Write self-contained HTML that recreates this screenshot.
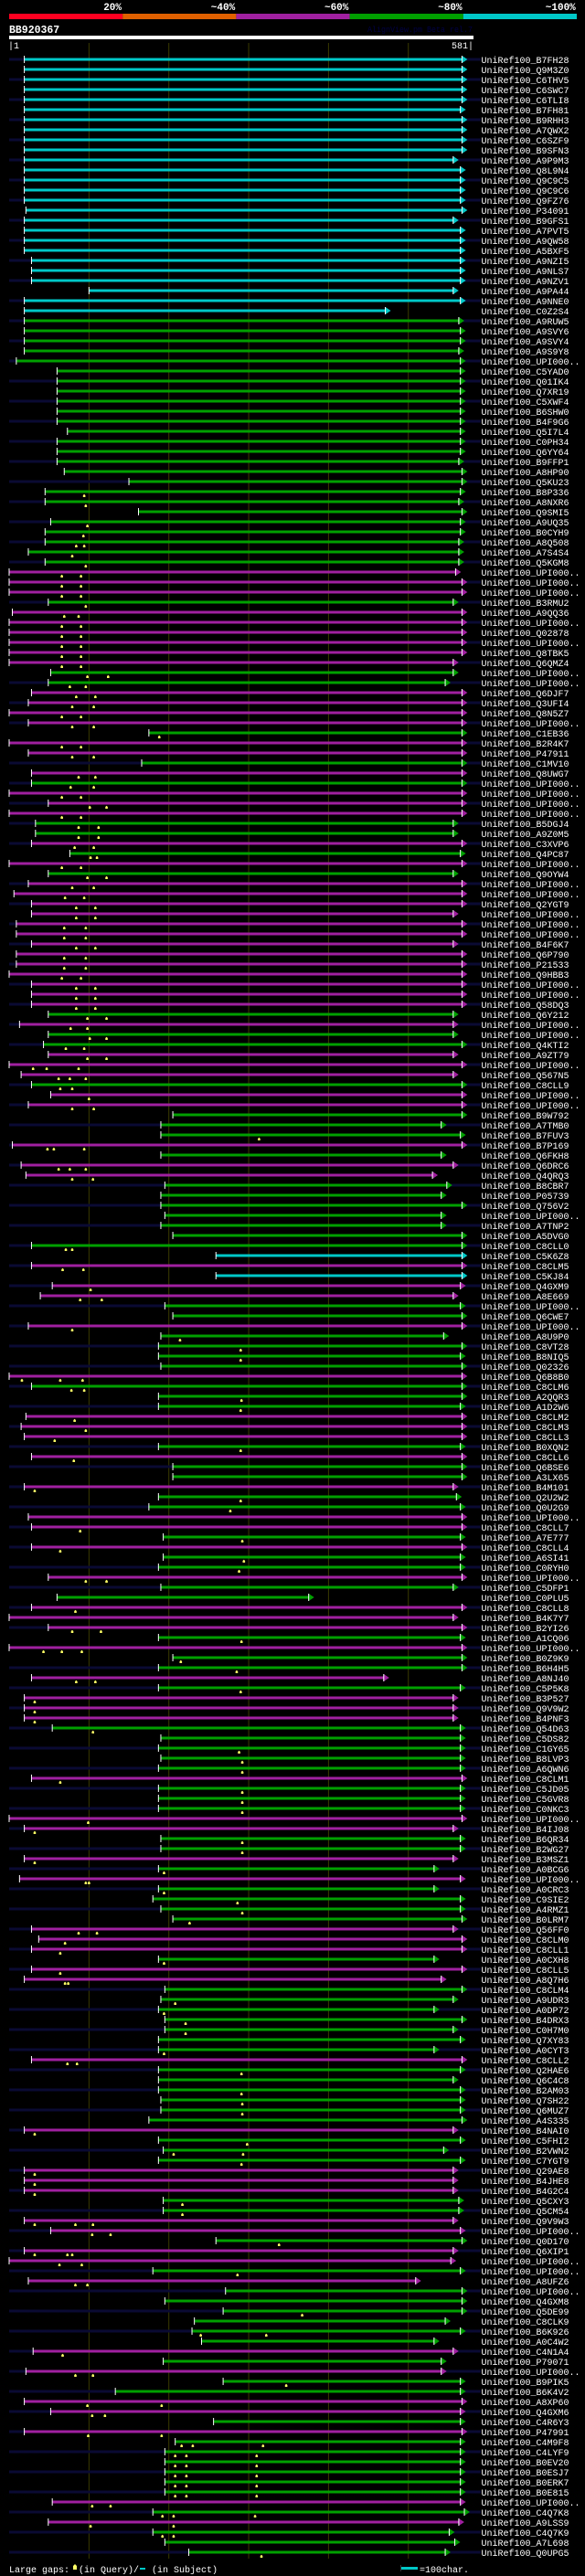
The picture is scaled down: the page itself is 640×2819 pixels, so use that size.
<!DOCTYPE html>
<html><head><meta charset="utf-8"><style>
html,body{margin:0;padding:0;background:#000;}
svg{display:block;}
</style></head><body>
<svg id="chart" width="640" height="2819" viewBox="0 0 640 2819" xmlns="http://www.w3.org/2000/svg" font-family="'Liberation Mono', monospace">
<rect x="0" y="0" width="640" height="2819" fill="#000"/>
<g id="legend-top"></g>
<text x="10" y="36" fill="#fff" font-size="11.5" font-weight="bold">BB920367</text>
<text x="402" y="35" fill="#000045" font-size="9.5" textLength="115" lengthAdjust="spacingAndGlyphs">AlignView.pm Beta rel.7</text>
<rect x="10" y="39" width="508" height="4" fill="#fff"/>
<text x="9" y="53" fill="#fff" font-size="10">|1</text>
<text x="518" y="53" fill="#fff" font-size="10" text-anchor="end">581|</text>
<g id="grid"></g>
<g id="rows"></g>
<g>
<text x="10" y="2815" fill="#fff" font-size="10">Large gaps:</text>
<path d="M80 2808 L82 2806 L84 2808 L84 2812 L80 2812 Z" fill="#ffff66"/>
<text x="86" y="2815" fill="#fff" font-size="10">(in Query)/</text>
<rect x="153" y="2810" width="6" height="2" fill="#00c8c8"/>
<text x="166" y="2815" fill="#fff" font-size="10">(in Subject)</text>
<rect x="439" y="2809" width="18" height="3" fill="#00c8c8"/>
<rect x="438" y="2807" width="1" height="7" fill="#333"/>
<text x="459" y="2815" fill="#fff" font-size="10">=100char.</text>
</g>
</svg>
<script>
// ---- data ----
const legendLabels = ["20%","~40%","~60%","~80%","~100%"];
const legendColors = ["#ff0020","#e06000","#a020a0","#00a000","#00c8c8"];
const gridTicks = [100,200,300,400,500];
const labels = ["B7FH28","Q9M3Z0","C6THV5","C6SWC7","C6TLI8","B7FH81","B9RHH3","A7QWX2","C6SZF9","B9SFN3","A9P9M3","Q8L9N4","Q9C9C5","Q9C9C6","Q9FZ76","P34091","B9GFS1","A7PVT5","A9QW58","A5BXF5","A9NZI5","A9NLS7","A9NZV1","A9PA44","A9NNE0","C0Z2S4","A9RUW5","A9SVY6","A9SVY4","A9S9Y8","UPI000..","C5YAD0",
"Q01IK4","Q7XR19","C5XWF4","B6SHW0","B4F9G6","Q5I7L4","C0PH34","Q6YY64","B9FFP1","A8HP90","Q5KU23","B8P336","A8NXR6","Q9SMI5","A9UQ35","B0CYH9","A8Q508","A7S4S4","Q5KGM8","UPI000..","UPI000..","UPI000..","B3RMU2","A9QQ36","UPI000..","Q02878",
"UPI000..","Q8TBK5","Q6QMZ4","UPI000..","UPI000..","Q6DJF7","Q3UFI4","Q8N5Z7","UPI000..","C1EB36","B2R4K7","P47911","C1MV10","Q8UWG7","UPI000..","UPI000..","UPI000..","UPI000..","B5DGJ4","A9Z0M5","C3XVP6","Q4PC87","UPI000..","Q9OYW4","UPI000..","UPI000..",
"Q2YGT9","UPI000..","UPI000..","UPI000..","B4F6K7","Q6P790","P21533","Q9HBB3","UPI000..","UPI000..","Q58DQ3","Q6Y212","UPI000..","UPI000..","Q4KTI2","A9ZT79","UPI000..","Q567N5","C8CLL9","UPI000..","UPI000..","B9W792","A7TMB0","B7FUV3","B7P169","Q6FKH8","Q6DRC6",
"Q4QRQ3","B8CBR7","P05739","Q756V2","UPI000..","A7TNP2","A5DVG0","C8CLL0","C5K6Z8","C8CLM5","C5KJ84","Q4GXM9","A8E669","UPI000..","Q6CWE7","UPI000..","A8U9P0","C8VT28","B8NIQ5","Q02326","Q6B8B0","C8CLM6","A2QQR3","A1D2W6","C8CLM2","C8CLM3",
"C8CLL3","B0XQN2","C8CLL6","Q6BSE6","A3LX65","B4M101","Q2U2W2","Q0U2G9","UPI000..","C8CLL7","A7E777","C8CLL4","A6SI41","C0RYH0","UPI000..","C5DFP1","C0PLU5","C8CLL8","B4K7Y7","B2YI26","A1CQ06","UPI000..","B0Z9K9","B6H4H5","A8NJ40","C5P5K8","B3P527",
"Q9V9W2","B4PNF3","Q54D63","C5DS82","C1GY65","B8LVP3","A6QWN6","C8CLM1","C5JD05","C5GVR8","C0NKC3","UPI000..","B4IJ08","B6QR34","B2WG27","B3MSZ1","A0BCG6","UPI000..","A0CRC3","C9SIE2","A4RMZ1","B0LRM7","Q56FF0","C8CLM0","C8CLL1","A0CXH8",
"C8CLL5","A8Q7H6","C8CLM4","A9UDR3","A0DP72","B4DRX3","C0H7M0","Q7XY83","A0CYT3","C8CLL2","Q2HAE6","Q6C4C8","B2AM03","Q7SH22","Q6MUZ7","A4S335","B4NAI0","C5FHI2","B2VWN2","C7YGT9","Q29AE8","B4JHE8","B4G2C4","Q5CXY3","Q5CM54","Q9V9W3",
"UPI000..","Q0D170","Q6XIP1","UPI000..","UPI000..","A8UFZ6","UPI000..","Q4GXM8","Q5DE99","C8CLK9","B6K926","A0C4W2","C4N1A4","P79071","UPI000..","B9PIK5","B6K4V2","A8XP60","Q4GXM6","C4R6Y3","P47991","C4M9F8","C4LYF9","B0EV20","B0ESJ7",
"B0ERK7","B0E815","UPI000..","C4Q7K8","A9LSS9","C4Q7K9","A7L698","Q0UPG5"];
// identity class per row: c=~100%, g=~80%, m=~60%
const identity = [
"cccccccccccccccccccccccccc","ggggggggggggggggggggggggg","mmm","g","mmmmmm","gg","mmmm","g","mm","g","m","g","mmm","gg","m","g","m","g","mm",
"mmmmmmmmmmm","g","m","gg","mmm","g","mm","ggg","m","g","mm","ggggggg","c","m","c","mm","gg","m","gggg","m","ggg","mmm","g","m","gg","m","gg","mm",
"g","m","gg","m","gg","mmm","g","m","gg","m","g","mmm","ggggg","m","ggg","mm","gg","m","g","m","gggg","mmm","g","mm","ggggggg","m","gggggg","m","ggg",
"mmm","gg","mm","g","mm","g","m","gggggg","m","g","m","gg","mm","g","m","gggggg","m","g","m","ggg"].join("");
const starts = [19,19,19,19,19,19,19,19,19,19,19,19,19,19,19,21,19,19,19,19,28,28,28,100,19,19,19,19,19,19,9,60,
60,60,60,60,60,73,60,60,60,69,150,45,45,162,52,45,45,24,45,0,0,0,49,4,0,0,
0,0,0,52,49,28,24,0,24,175,0,24,166,28,28,0,49,0,33,33,28,76,0,49,24,6,
28,28,9,9,28,9,9,0,28,28,28,49,13,49,43,49,0,15,28,52,24,205,190,190,4,190,15,
21,195,190,190,195,190,205,28,259,28,259,54,39,195,205,24,190,187,187,190,0,28,187,187,21,15,
19,187,28,205,205,19,187,175,24,28,193,28,193,187,49,190,60,28,0,49,187,0,205,187,28,187,19,
19,19,54,190,187,190,187,28,187,187,187,0,19,190,190,19,187,13,187,180,190,205,28,37,28,187,
28,19,195,190,187,195,195,187,187,28,187,187,187,190,190,175,19,187,193,187,19,19,19,193,193,19,
52,259,19,0,180,24,271,195,268,232,229,241,30,193,21,268,133,19,52,256,19,208,195,195,195,
195,195,54,180,49,180,195,225];
const ends = [574,574,574,574,574,572,574,574,574,574,563,572,572,572,572,574,563,572,572,572,572,572,572,563,572,478,570,572,572,570,572,572,
572,572,572,572,572,572,572,572,570,574,574,572,570,574,572,572,570,570,570,566,574,574,563,574,574,574,
574,574,563,563,553,574,574,574,574,574,574,574,574,574,574,574,574,574,563,563,574,572,574,563,574,574,
574,563,574,574,563,574,574,574,574,574,574,563,563,563,574,563,574,563,574,574,574,574,548,572,574,548,563,
537,555,548,574,548,548,574,574,574,574,574,572,563,572,574,574,551,574,572,574,574,574,574,572,574,574,
574,572,574,574,574,563,567,572,574,574,572,574,572,572,574,563,382,574,563,574,572,574,574,574,476,572,563,
563,563,572,572,572,572,572,574,572,572,572,574,563,572,572,563,539,572,539,572,572,574,563,574,574,539,
574,548,574,563,539,574,563,572,539,574,572,563,572,572,572,574,563,572,551,572,563,563,563,570,570,563,
572,574,563,560,572,516,574,574,574,553,572,539,563,548,548,572,572,574,572,572,574,572,572,572,572,
572,572,572,577,570,558,565,553];
const markers = [[],[],[],[],[],[],[],[],[],[],[],[],[],[],[],[],[],[],[],[],[],[],[],[],[],[],[],[],[],[],[],[],
[],[],[],[],[],[],[],[],[],[],[],[94],[96],[],[98],[93],[84,94],[79],[96],[66,90],[66,90],[66,90],[96],[69,87],[66,90],[66,90],
[66,90],[66,90],[66,90],[98,124],[76,96],[84,108],[79,106],[66,90],[79,106],[188],[66,90],[79,106],[],[87,108],[77,106],[66,90],[101,122],[66,90],[87,112],[87,112],[82,106],[102,110],[66,90],[98,122],[79,106],[70,94],
[84,108],[84,108],[69,96],[69,96],[84,108],[69,96],[69,96],[66,90],[84,108],[84,108],[84,108],[98,122],[77,98],[101,122],[71,94],[98,122],[30,47,87],[62,76,96],[64,79],[100],[79,106],[],[],[313],[48,56,94],[],[62,76,96],
[79,105],[],[],[],[],[],[],[71,79],[],[67,93],[],[102],[89,116],[],[],[79],[214],[290],[290],[],[16,64,92],[78,94],[291],[290],[82],[96],
[57],[290],[81],[],[],[32],[290],[277],[],[89],[292],[64],[294],[288],[96,122],[],[],[83],[],[79,115],[291],[43,66,91],[215],[285],[84,108],[290],[32],
[32],[32],[105],[],[288],[292],[292],[64],[292],[292],[292],[99],[32],[292],[292],[32],[194],[96,100],[194],[286],[292],[226],[87,110],[70],[64],[194],
[64],[70,74],[],[208],[194],[221],[221],[],[194],[73,85],[291],[],[291],[292],[292],[],[32],[298],[206,293],[291],[32],[32],[32],[217],[217],[32,83,105],
[104,127],[338],[32,73,79],[63,91],[286],[83,98],[],[],[367],[],[240,322],[],[67],[],[83,105],[347],[],[98,191],[104,120],[],[99,191],[216,230,318],[208,222,310],[208,222,310],[208,222,310],
[208,222,310],[208,222,310],[104,127],[192,206,308],[102,206],[192,206],[],[316]];

// ---- scales ----
const X0 = 10, PX = 0.8735;
function xScale(p){ return X0 + p*PX; }
function rowY(i){ return 65 + i*11; }
const colorMap = {c:"#00c8c8", g:"#00a000", m:"#a020a0"};
const NS = "http://www.w3.org/2000/svg";
function mk(tag, attrs, parent){
  const e = document.createElementNS(NS, tag);
  for (const k in attrs) e.setAttribute(k, attrs[k]);
  parent.appendChild(e); return e;
}

// top legend
const lg = document.getElementById('legend-top');
for (let i=0;i<legendLabels.length;i++){
  const x0 = 10 + i*124.2;
  const r = mk('rect',{x:x0,y:15,width:124.2,height:6,fill:legendColors[i]},lg);
  
  
  const t = mk('text',{x:x0+123,y:11,fill:'#fff','font-size':11,'font-weight':'bold','text-anchor':'end'},lg);
  t.textContent = legendLabels[i];
  
  
}

// grid
const gg = document.getElementById('grid');
gridTicks.forEach(v=>{
  const l = mk('line',{x1:xScale(v),x2:xScale(v),y1:47,y2:2800,stroke:'#3a3a00','stroke-width':1},gg);
  
  
});

// rows
const rg = document.getElementById('rows');
for (let i=0;i<labels.length;i++){
  const y = rowY(i);
  const col = colorMap[identity[i]] || "#00a000";
  const g = mk('g',{},rg);
  
  
  if (i%2===0){
    const bg = mk('rect',{x:10,y:y-1.5,width:516,height:3,fill:'#0a0a33'},g);
    
    
  }
  const xs = xScale(starts[i]), xe = xScale(ends[i]);
  const bar = mk('rect',{x:xs,y:y-1.5,width:Math.max(0,xe-6-xs),height:3,fill:col},g);
  
  
  const tick = mk('rect',{x:xs-0.5,y:y-4,width:1,height:8,fill:'#fff'},g);
  
  
  const ar = mk('path',{d:`M${xe-6} ${y-4} L${xe} ${y} L${xe-6} ${y+4} Z`,fill:col},g);
  
  
  const al = mk('rect',{x:xe-6.5,y:y-4,width:1,height:8,fill:'#fff'},g);
  
  
  (markers[i]||[]).forEach(m=>{
    const mx = xScale(m);
    const mm = mk('path',{d:`M${mx-1.3} ${y+4} L${mx} ${y+2.7} L${mx+1.3} ${y+4} L${mx+1.3} ${y+6} L${mx-1.3} ${y+6} Z`,fill:'#ffff66'},g);
    
    
  });
  const name = "UniRef100_" + labels[i];
  const t = mk('text',{x:526.5,y:y+4,fill:'#fff','font-size':10,textLength:(name.length*6).toFixed(1),lengthAdjust:'spacingAndGlyphs'},g);
  t.textContent = name;
  
  
}
</script>
</body></html>
